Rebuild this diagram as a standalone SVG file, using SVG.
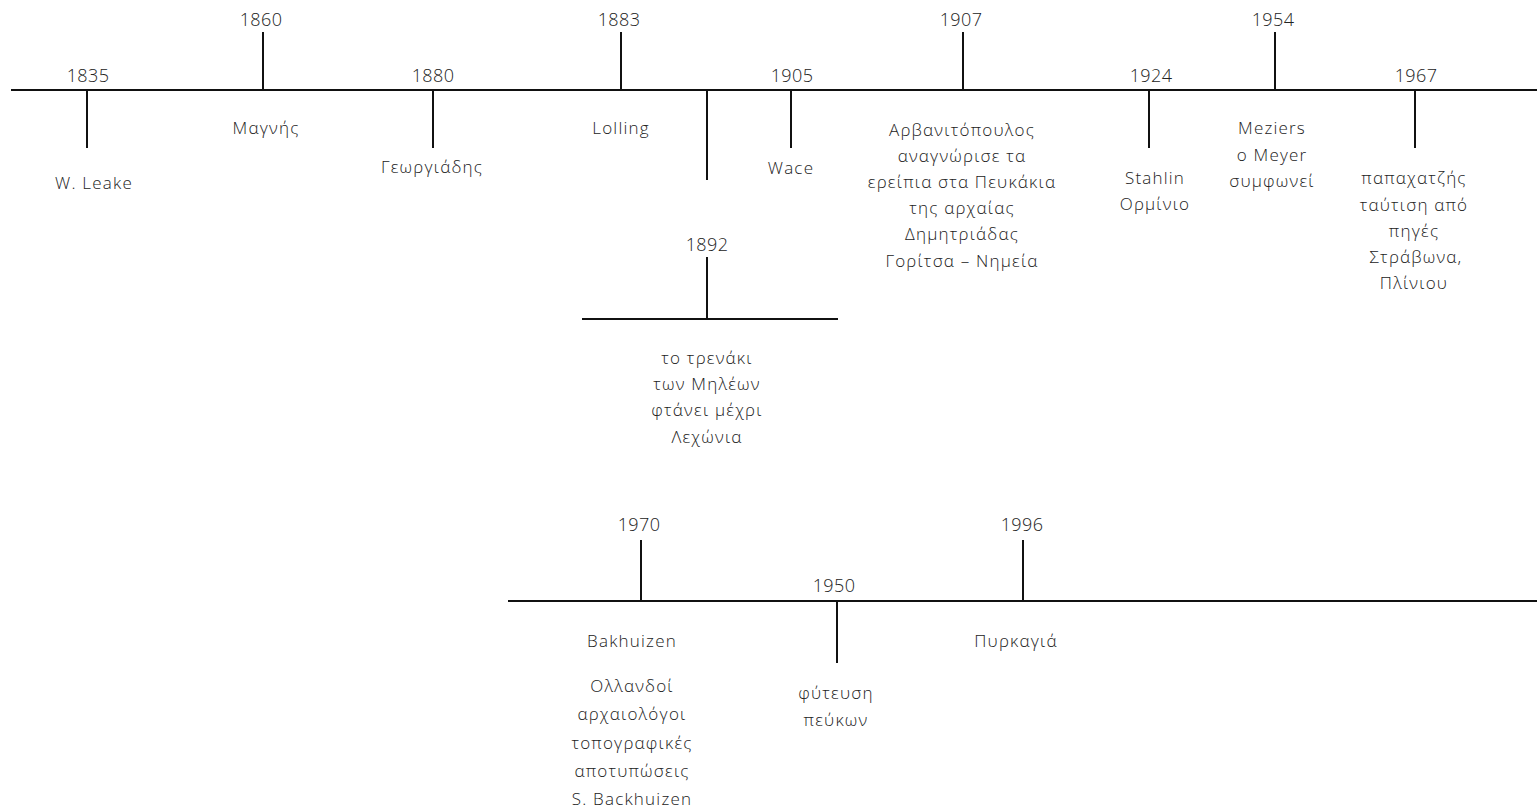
<svg xmlns="http://www.w3.org/2000/svg" width="1537" height="810" viewBox="0 0 1537 810">
<style>
  .ln{stroke:#111;stroke-width:2;fill:none}
  .yr{font-family:"Open Sans","DejaVu Sans",sans-serif;font-weight:300;font-size:18px;fill:#222;text-anchor:middle;letter-spacing:0.4px}
  .tx{font-family:"Open Sans","DejaVu Sans",sans-serif;font-weight:300;font-size:17px;fill:#222;text-anchor:middle;letter-spacing:1.2px}
</style>
<rect width="1537" height="810" fill="#fff"/>
<g id="connectors">
  <line class="ln" x1="11" y1="90" x2="1537" y2="90"/>
  <line class="ln" x1="508" y1="601" x2="1537" y2="601"/>
  <line class="ln" x1="582" y1="319" x2="838" y2="319"/>
</g>
<g id="e1835">
  <line class="ln" x1="87" y1="90" x2="87" y2="148"/>
  <text class="yr" x="88" y="82">1835</text>
  <text class="tx" x="94" y="189">W. Leake</text>
</g>
<g id="e1860">
  <line class="ln" x1="263" y1="32" x2="263" y2="90"/>
  <text class="yr" x="261" y="26">1860</text>
  <text class="tx" x="266" y="134">Μαγνής</text>
</g>
<g id="e1880">
  <line class="ln" x1="433" y1="90" x2="433" y2="148"/>
  <text class="yr" x="433" y="82">1880</text>
  <text class="tx" x="432" y="173">Γεωργιάδης</text>
</g>
<g id="e1883">
  <line class="ln" x1="621" y1="32" x2="621" y2="90"/>
  <text class="yr" x="619" y="26">1883</text>
  <text class="tx" x="621" y="134">Lolling</text>
</g>
<g id="e1892">
  <line class="ln" x1="707" y1="90" x2="707" y2="180"/>
  <line class="ln" x1="707" y1="257" x2="707" y2="319"/>
  <text class="yr" x="707" y="251">1892</text>
  <text class="tx" x="707" y="364">το τρενάκι</text>
  <text class="tx" x="707" y="390">των Μηλέων</text>
  <text class="tx" x="707" y="416">φτάνει μέχρι</text>
  <text class="tx" x="707" y="443">Λεχώνια</text>
</g>
<g id="e1905">
  <line class="ln" x1="791" y1="90" x2="791" y2="148"/>
  <text class="yr" x="792" y="82">1905</text>
  <text class="tx" x="791" y="174">Wace</text>
</g>
<g id="e1907">
  <line class="ln" x1="963" y1="32" x2="963" y2="90"/>
  <text class="yr" x="961" y="26">1907</text>
  <text class="tx" x="962" y="136">Αρβανιτόπουλος</text>
  <text class="tx" x="962" y="162">αναγνώρισε τα</text>
  <text class="tx" x="962" y="188">ερείπια στα Πευκάκια</text>
  <text class="tx" x="962" y="214">της αρχαίας</text>
  <text class="tx" x="962" y="240">Δημητριάδας</text>
  <text class="tx" x="962" y="267">Γορίτσα – Νημεία</text>
</g>
<g id="e1924">
  <line class="ln" x1="1149" y1="90" x2="1149" y2="148"/>
  <text class="yr" x="1151" y="82">1924</text>
  <text class="tx" x="1155" y="184">Stahlin</text>
  <text class="tx" x="1155" y="210">Ορμίνιο</text>
</g>
<g id="e1954">
  <line class="ln" x1="1275" y1="32" x2="1275" y2="90"/>
  <text class="yr" x="1273" y="26">1954</text>
  <text class="tx" x="1272" y="134">Meziers</text>
  <text class="tx" x="1272" y="161">ο Meyer</text>
  <text class="tx" x="1272" y="187">συμφωνεί</text>
</g>
<g id="e1967">
  <line class="ln" x1="1415" y1="90" x2="1415" y2="148"/>
  <text class="yr" x="1416" y="82">1967</text>
  <text class="tx" x="1414" y="184">παπαχατζής</text>
  <text class="tx" x="1414" y="211">ταύτιση από</text>
  <text class="tx" x="1414" y="237">πηγές</text>
  <text class="tx" x="1416" y="263">Στράβωνα,</text>
  <text class="tx" x="1414" y="289">Πλίνιου</text>
</g>
<g id="e1970">
  <line class="ln" x1="641" y1="540" x2="641" y2="601"/>
  <text class="yr" x="639" y="531">1970</text>
  <text class="tx" x="632" y="647">Bakhuizen</text>
  <text class="tx" x="632" y="692">Ολλανδοί</text>
  <text class="tx" x="632" y="720">αρχαιολόγοι</text>
  <text class="tx" x="632" y="749">τοπογραφικές</text>
  <text class="tx" x="632" y="777">αποτυπώσεις</text>
  <text class="tx" x="632" y="805">S. Backhuizen</text>
</g>
<g id="e1950">
  <line class="ln" x1="837" y1="601" x2="837" y2="663"/>
  <text class="yr" x="834" y="592">1950</text>
  <text class="tx" x="836" y="699">φύτευση</text>
  <text class="tx" x="836" y="726">πεύκων</text>
</g>
<g id="e1996">
  <line class="ln" x1="1023" y1="540" x2="1023" y2="601"/>
  <text class="yr" x="1022" y="531">1996</text>
  <text class="tx" x="1016" y="647">Πυρκαγιά</text>
</g>
</svg>
